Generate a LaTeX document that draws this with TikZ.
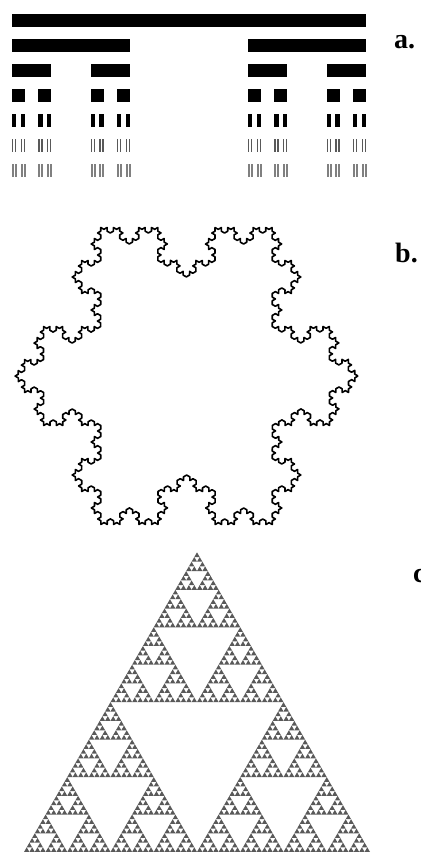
\documentclass[tikz,border=0pt]{standalone}
\usepackage{fontspec}
\setmainfont{Liberation Serif}
\usepackage{tikz}
\usetikzlibrary{decorations.fractals}

\tikzset{
  cantorbar/.style={draw=none},
  kochline/.style={line width=1.6pt, line join=round, decoration=Koch snowflake},
  sierpfill/.style={fill=black!65},
  partlabel/.style={anchor=base west, inner sep=0pt, font=\bfseries\fontsize{28}{30}\selectfont}
}

% one row of the Cantor set: left, width, depth, y, shade
\newcommand{\cantorrow}[5]{%
  \ifnum#3=0
    \fill[cantorbar, black!#5] (#1,#4-6.5) rectangle ++(#2,13);
  \else
    \pgfmathsetmacro\cantorw{#2/3}%
    \pgfmathsetmacro\cantorr{#1+2*#2/3}%
    \edef\cantornext{\noexpand\cantorrow{#1}{\cantorw}{\the\numexpr#3-1\relax}{#4}{#5}%
      \noexpand\cantorrow{\cantorr}{\cantorw}{\the\numexpr#3-1\relax}{#4}{#5}}%
    \cantornext
  \fi}

% Sierpinski triangle: x, y (bottom left), side, depth
\newcommand{\sierp}[4]{%
  \ifnum#4=0
    \fill[sierpfill] (#1,#2) -- ++(#3,0) -- (#1+#3/2,#2+#3*0.8660254) -- cycle;
  \else
    \pgfmathsetmacro\sierph{#3/2}%
    \pgfmathsetmacro\sierpx{#1+#3/2}%
    \pgfmathsetmacro\sierpu{#1+#3/4}%
    \pgfmathsetmacro\sierpv{#2+#3*0.4330127}%
    \edef\sierpnext{\noexpand\sierp{#1}{#2}{\sierph}{\the\numexpr#4-1\relax}%
      \noexpand\sierp{\sierpx}{#2}{\sierph}{\the\numexpr#4-1\relax}%
      \noexpand\sierp{\sierpu}{\sierpv}{\sierph}{\the\numexpr#4-1\relax}}%
    \sierpnext
  \fi}

\begin{document}
\begin{tikzpicture}[x=1pt, y=1pt]
    \useasboundingbox (0,0) rectangle (420,853);
    \clip (0,0) rectangle (420,853);

    % a. Cantor set
    \foreach \n/\shade in {0/100, 1/100, 2/100, 3/100, 4/100, 5/65, 6/50}
      \cantorrow{12}{354}{\n}{832.3-25*\n}{\shade};
    \node[partlabel] (la) at (394,804) {a.};

    % b. Koch snowflake
    \coordinate (k0) at (358,477);
    \coordinate (k1) at (100.75,625.5);
    \coordinate (k2) at (100.75,328.5);
    \draw[kochline] decorate{ decorate{ decorate{ decorate{
      (k0) -- (k2) -- (k1) -- (k0) }}}};
    \node[partlabel] (lb) at (395,590) {b.};

    % c. Sierpinski triangle
    \sierp{24}{1}{346}{6}
    \node[partlabel] (lc) at (413,270) {c.};
\end{tikzpicture}
\end{document}
